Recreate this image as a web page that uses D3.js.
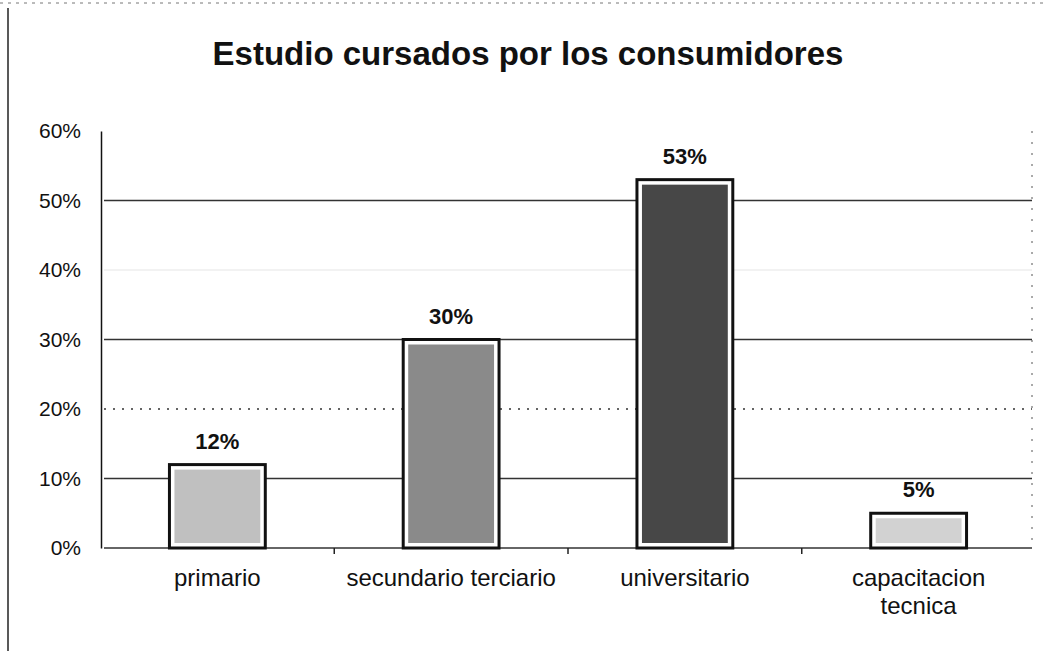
<!DOCTYPE html>
<html>
<head>
<meta charset="utf-8">
<script src="https://cdn.jsdelivr.net/npm/d3@7"></script>
<style>
  body { margin: 0; background: #fff; }
  text { font-family: "Liberation Sans", Arial, sans-serif; }
</style>
</head>
<body>
<div id="chart"></div>
<script>
var w = 1043,
  h = 651;

// data
var categories = ["primario", "secundario terciario", "universitario", "capacitacion tecnica"];
var values = [0.12, 0.30, 0.53, 0.05];
var yTicks = [0, 0.1, 0.2, 0.3, 0.4, 0.5, 0.6];
var barColors = ["#c0c0c0", "#8a8a8a", "#474747", "#d2d2d2"];

var margin = {top: 131, right: 11, bottom: 103, left: 104};

var svg = d3.select("#chart").append("svg").attr("width", w).attr("height", h);

// scanned page frame
svg.append("line").attr("x1", 8).attr("x2", 8).attr("y1", 8).attr("y2", h)
  .attr("stroke", "#222").attr("stroke-width", 1.5);
svg.append("line").attr("x1", 0).attr("x2", w).attr("y1", 3).attr("y2", 3)
  .attr("stroke", "#777").attr("stroke-width", 1).attr("stroke-dasharray", "3,5");

svg.append("text").attr("x", 528).attr("y", 65).attr("text-anchor", "middle")
  .style("font-size", "33px").style("font-weight", "bold").style("fill", "#111")
  .text("Estudio cursados por los consumidores");

var x = d3.scaleBand().domain(categories)
  .range([margin.left, w - margin.right])
  .paddingInner(0.59).paddingOuter(0.28);

var y = d3.scaleLinear().domain([0, 0.6]).range([h - margin.bottom, margin.top]);

// gridlines (the 40% one barely survived the scan)
svg.append("g").selectAll("line").data(yTicks.slice(1, -1)).enter().append("line")
  .attr("x1", margin.left).attr("x2", w - margin.right)
  .attr("y1", function(d) { return y(d); }).attr("y2", function(d) { return y(d); })
  .attr("stroke", function(d) { return Math.abs(d - 0.4) < 1e-9 ? "#eee" : "#333"; })
  .attr("stroke-width", 1.3)
  .attr("stroke-dasharray", function(d) { return Math.abs(d - 0.2) < 1e-9 ? "2,7" : null; });

// faint right edge of the plot area
svg.append("line").attr("x1", w - margin.right).attr("x2", w - margin.right)
  .attr("y1", margin.top).attr("y2", y(0))
  .attr("stroke", "#555").attr("stroke-width", 1).attr("stroke-dasharray", "2,9");

// y axis
var yAxis = d3.axisLeft(y).tickValues(yTicks).tickFormat(d3.format(".0%")).tickSize(0).tickPadding(20);
var gy = svg.append("g").attr("transform", "translate(" + (margin.left - 3) + ",0)").call(yAxis);
gy.select(".domain").attr("stroke", "#111").attr("stroke-width", 1.5);
gy.selectAll("text").style("font-size", "21px").style("fill", "#111")
  .style("font-family", "'Liberation Sans', Arial, sans-serif");

// x baseline with category separators
svg.append("line").attr("x1", margin.left).attr("x2", w - margin.right)
  .attr("y1", y(0)).attr("y2", y(0)).attr("stroke", "#333").attr("stroke-width", 1.3);
svg.append("g").selectAll("line").data(categories.slice(1)).enter().append("line")
  .attr("x1", function(d) { return x(d) - x.step() * x.paddingInner() / 2; })
  .attr("x2", function(d) { return x(d) - x.step() * x.paddingInner() / 2; })
  .attr("y1", y(0)).attr("y2", y(0) + 6).attr("stroke", "#222").attr("stroke-width", 1.5);

// bars
var bars = svg.append("g").selectAll("g").data(categories).enter().append("g");
bars.append("rect")
  .attr("x", function(d) { return x(d); })
  .attr("y", function(d, i) { return y(values[i]); })
  .attr("width", x.bandwidth())
  .attr("height", function(d, i) { return y(0) - y(values[i]); })
  .attr("fill", "#fff").attr("stroke", "#111").attr("stroke-width", 3);
bars.append("rect")
  .attr("x", function(d) { return x(d) + 5; })
  .attr("y", function(d, i) { return y(values[i]) + 5; })
  .attr("width", x.bandwidth() - 10)
  .attr("height", function(d, i) { return Math.max(0, y(0) - y(values[i]) - 10); })
  .attr("fill", function(d, i) { return barColors[i]; });

// value labels
bars.append("text")
  .attr("x", function(d) { return x(d) + x.bandwidth() / 2; })
  .attr("y", function(d, i) { return y(values[i]) - 16; })
  .attr("text-anchor", "middle")
  .style("font-size", "22px").style("font-weight", "bold").style("fill", "#111")
  .text(function(d, i) { return d3.format(".0%")(values[i]); });

// category labels, wrapped like the original
var catLines = {
  "primario": ["primario"],
  "secundario terciario": ["secundario terciario"],
  "universitario": ["universitario"],
  "capacitacion tecnica": ["capacitacion", "tecnica"]
};
var xl = svg.append("g").selectAll("text").data(categories).enter().append("text")
  .attr("x", function(d) { return x(d) + x.bandwidth() / 2; })
  .attr("y", y(0) + 38)
  .attr("text-anchor", "middle")
  .style("font-size", "24px").style("fill", "#111");
xl.selectAll("tspan").data(function(d) { return catLines[d]; }).enter().append("tspan")
  .attr("x", function() { return d3.select(this.parentNode).attr("x"); })
  .attr("dy", function(d, i) { return i ? 28 : 0; })
  .text(function(d) { return d; });
</script>
</body>
</html>
